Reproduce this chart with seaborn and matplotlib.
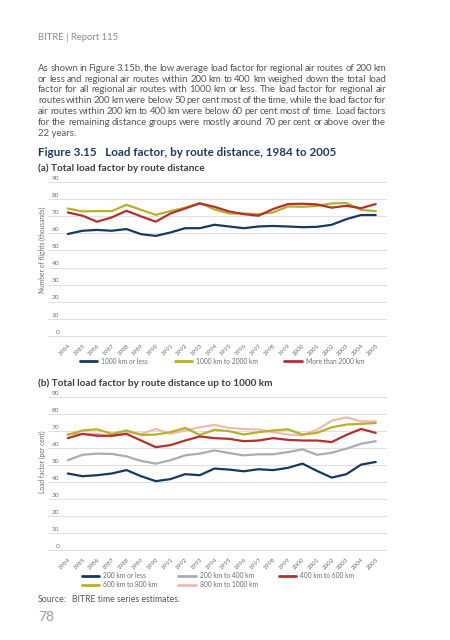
import pandas as pd
import numpy as np
import matplotlib.pyplot as plt
import seaborn as sns

# data
years = list(range(1984, 2006))

# (a) total load factor by route distance
up_to_1000 = [59.6, 61.5, 62.0, 61.5, 62.5, 59.5, 58.5, 60.5, 63.0, 63.0, 65.0,
              64.0, 63.0, 64.0, 64.3, 64.0, 63.6, 63.8, 65.0, 68.3, 70.7, 70.7]
from_1000_to_2000 = [74.5, 72.8, 73.0, 73.0, 76.7, 73.7, 70.8, 73.0, 75.0, 77.7, 74.0,
                     71.6, 71.6, 71.2, 72.2, 75.7, 75.5, 76.0, 77.5, 77.7, 73.7, 73.0]
over_2000 = [72.2, 70.3, 66.8, 69.3, 73.2, 69.9, 66.8, 71.6, 74.5, 77.5, 75.5,
             72.8, 71.2, 70.3, 74.2, 77.1, 77.3, 76.9, 75.0, 76.1, 74.7, 77.1]

# (b) load factor by route distance up to 1000 km
up_to_200 = [45.0, 43.4, 44.0, 45.0, 47.0, 43.4, 40.5, 41.7, 44.6, 44.0, 47.9,
             47.3, 46.3, 47.5, 47.0, 48.3, 50.8, 46.5, 42.6, 44.6, 50.2, 51.8]
from_200_to_400 = [52.8, 56.0, 56.7, 56.5, 55.1, 52.4, 50.8, 52.8, 55.7, 56.7, 58.6,
                   57.0, 55.7, 56.3, 56.3, 57.6, 59.2, 56.0, 57.2, 59.6, 62.5, 64.0]
from_400_to_600 = [65.8, 68.3, 67.2, 67.2, 68.3, 64.4, 60.5, 61.7, 64.4, 66.8, 65.8,
                   65.4, 64.0, 64.4, 65.8, 64.8, 64.4, 64.4, 63.5, 67.7, 71.2, 68.9]
from_600_to_800 = [67.7, 70.3, 71.0, 68.3, 70.3, 67.7, 67.9, 69.3, 71.8, 67.7, 70.7,
                   69.9, 67.9, 69.3, 70.3, 71.0, 67.9, 68.9, 72.2, 73.8, 74.2, 74.7]
from_800_to_1000 = [68.3, 68.3, 68.3, 66.8, 69.3, 68.3, 71.2, 68.3, 70.3, 72.2, 73.6,
                    71.8, 71.2, 70.9, 69.3, 67.9, 67.5, 70.7, 76.1, 78.0, 75.7, 75.7]

labels_a = ['1000 km or less', '1000 km to 2000 km', 'More than 2000 km']
labels_b = ['200 km or less', '200 km to 400 km', '400 km to 600 km',
            '600 km to 800 km', '800 km to 1000 km']
y_ticks = [0, 10, 20, 30, 40, 50, 60, 70, 80, 90]

navy = '#163a5f'
olive = '#b7b02b'
red = '#b3302f'
grey = '#a8acb4'
pink = '#eebcae'
text_grey = '#6d6e71'
title_blue = '#1d3a63'

df_a = pd.DataFrame({'year': years * 3,
                     'value': up_to_1000 + from_1000_to_2000 + over_2000,
                     'series': np.repeat(labels_a, len(years))})
df_b = pd.DataFrame({'year': years * 5,
                     'value': up_to_200 + from_200_to_400 + from_400_to_600
                     + from_600_to_800 + from_800_to_1000,
                     'series': np.repeat(labels_b, len(years))})

sns.set_style('white')
plt.rcParams['font.family'] = ['Lato', 'DejaVu Sans']

W, H = 450, 640
fig = plt.figure(figsize=(4.5, 6.4), dpi=100)


def fx(px):
    return px / W


def fy(py):
    return 1 - py / H


# header and body text
fig.text(fx(38), fy(37), 'BITRE | Report 115', fontsize=6.8, color='#8a8c8f', va='center')

para = [
    'As shown in Figure 3.15b, the low average load factor for regional air routes of 200 km',
    'or less and regional air routes within 200 km to 400 km weighed down the total load',
    'factor for all regional air routes with 1000 km or less. The load factor for regional air',
    'routes within 200 km were below 50 per cent most of the time, while the load factor for',
    'air routes within 200 km to 400 km were below 60 per cent most of time. Load factors',
    'for the remaining distance groups were mostly around 70 per cent or above over the',
    '22 years.',
]
line_y = [68, 79, 89, 100, 111, 122, 133]

renderer = fig.canvas.get_renderer()
for i, (line, ly) in enumerate(zip(para, line_y)):
    base = fy(ly + 2.8)
    words = line.split()
    if i == len(para) - 1:
        fig.text(fx(38), base, line, fontsize=6.9, color='#555658', va='baseline')
        continue
    texts = [fig.text(0, base, w, fontsize=6.9, color='#555658', va='baseline') for w in words]
    widths = [t.get_window_extent(renderer).width for t in texts]
    gap = (386 - 38 - sum(widths)) / (len(words) - 1)
    x = 38
    for t, w in zip(texts, widths):
        t.set_x(fx(x))
        x += w + gap

fig.text(fx(38), fy(152), 'Figure 3.15   Load factor, by route distance, 1984 to 2005',
         fontsize=8.4, fontweight='bold', color=title_blue, va='center')
fig.text(fx(38), fy(168), '(a) Total load factor by route distance',
         fontsize=7.2, fontweight='bold', color='#3d3e40', va='center')
fig.text(fx(38), fy(383), '(b) Total load factor by route distance up to 1000 km',
         fontsize=7.2, fontweight='bold', color='#3d3e40', va='center')


def style_axis(ax):
    ax.set_xlim(1982.65, 2005.7)
    ax.set_ylim(0, 90)
    ax.set_yticks(y_ticks)
    ax.set_yticklabels([])
    ax.tick_params(axis='y', length=0)
    ax.grid(axis='y', color='#dfe0e2', lw=0.8)
    for gl in ax.get_ygridlines():
        gl.set_clip_on(False)
    ax.set_axisbelow(True)
    for s in ax.spines.values():
        s.set_visible(False)
    for v in y_ticks:
        ax.text(0.033, v + 0.8, str(v), transform=ax.get_yaxis_transform(),
                ha='right', va='bottom', fontsize=4.6, color=text_grey)
    ax.set_xticks(years)
    ax.set_xticklabels([str(y) for y in years], rotation=45, ha='right',
                       rotation_mode='anchor', fontsize=4.5, color=text_grey)
    ax.tick_params(axis='x', length=2.5, width=0.5, color='#c8c8c8', pad=2.5)
    ax.set_xlabel('')
    ax.set_ylabel('')


# (a)
ax1 = fig.add_axes([fx(48), fy(336), fx(338), (336 - 182) / H])
sns.lineplot(data=df_a, x='year', y='value', hue='series', hue_order=labels_a,
             palette=[navy, olive, red], lw=1.6, legend=False, ax=ax1)
style_axis(ax1)
h1 = [plt.Line2D([], [], color=c, lw=2) for c in [navy, olive, red]]
ax1.legend(h1, labels_a, ncol=3, frameon=False, loc='center',
           bbox_to_anchor=(fx(222), fy(361)), bbox_transform=fig.transFigure,
           fontsize=4.8, handlelength=2.6, columnspacing=4.0, handletextpad=0.6,
           labelcolor=text_grey)
fig.text(fx(42), fy(250), 'Number of flights (thousands)', rotation=90,
         ha='center', va='center', fontsize=4.8, color=text_grey)

# (b)
ax2 = fig.add_axes([fx(48), fy(550), fx(338), (550 - 397) / H])
sns.lineplot(data=df_b, x='year', y='value', hue='series', hue_order=labels_b,
             palette=[navy, grey, red, olive, pink], lw=1.6, legend=False, ax=ax2)
# draw order: pink under the others
for line, z in zip(ax2.get_lines(), [5, 4, 3, 2.5, 2]):
    line.set_zorder(z)
style_axis(ax2)
cols_b = [navy, grey, red, olive, pink]
h2 = [plt.Line2D([], [], color=c, lw=2) for c in cols_b]
order = [0, 3, 1, 4, 2]
ax2.legend([h2[i] for i in order], [labels_b[i] for i in order], ncol=3,
           frameon=False, loc='center',
           bbox_to_anchor=(fx(218), fy(580)), bbox_transform=fig.transFigure,
           fontsize=4.8, handlelength=2.6, columnspacing=3.2, handletextpad=0.6,
           labelspacing=0.35, labelcolor=text_grey)
fig.text(fx(42), fy(462), 'Load factor (per cent)', rotation=90,
         ha='center', va='center', fontsize=4.8, color=text_grey)

fig.text(fx(38), fy(599), 'Source:', fontsize=6.3, color='#555658', va='center')
fig.text(fx(72), fy(599), 'BITRE time series estimates.', fontsize=6.3,
         color='#555658', va='center')
fig.text(fx(38), fy(617), '78', fontsize=10, color='#9a9b9e', va='center')

fig.savefig('out.png', dpi=100)
